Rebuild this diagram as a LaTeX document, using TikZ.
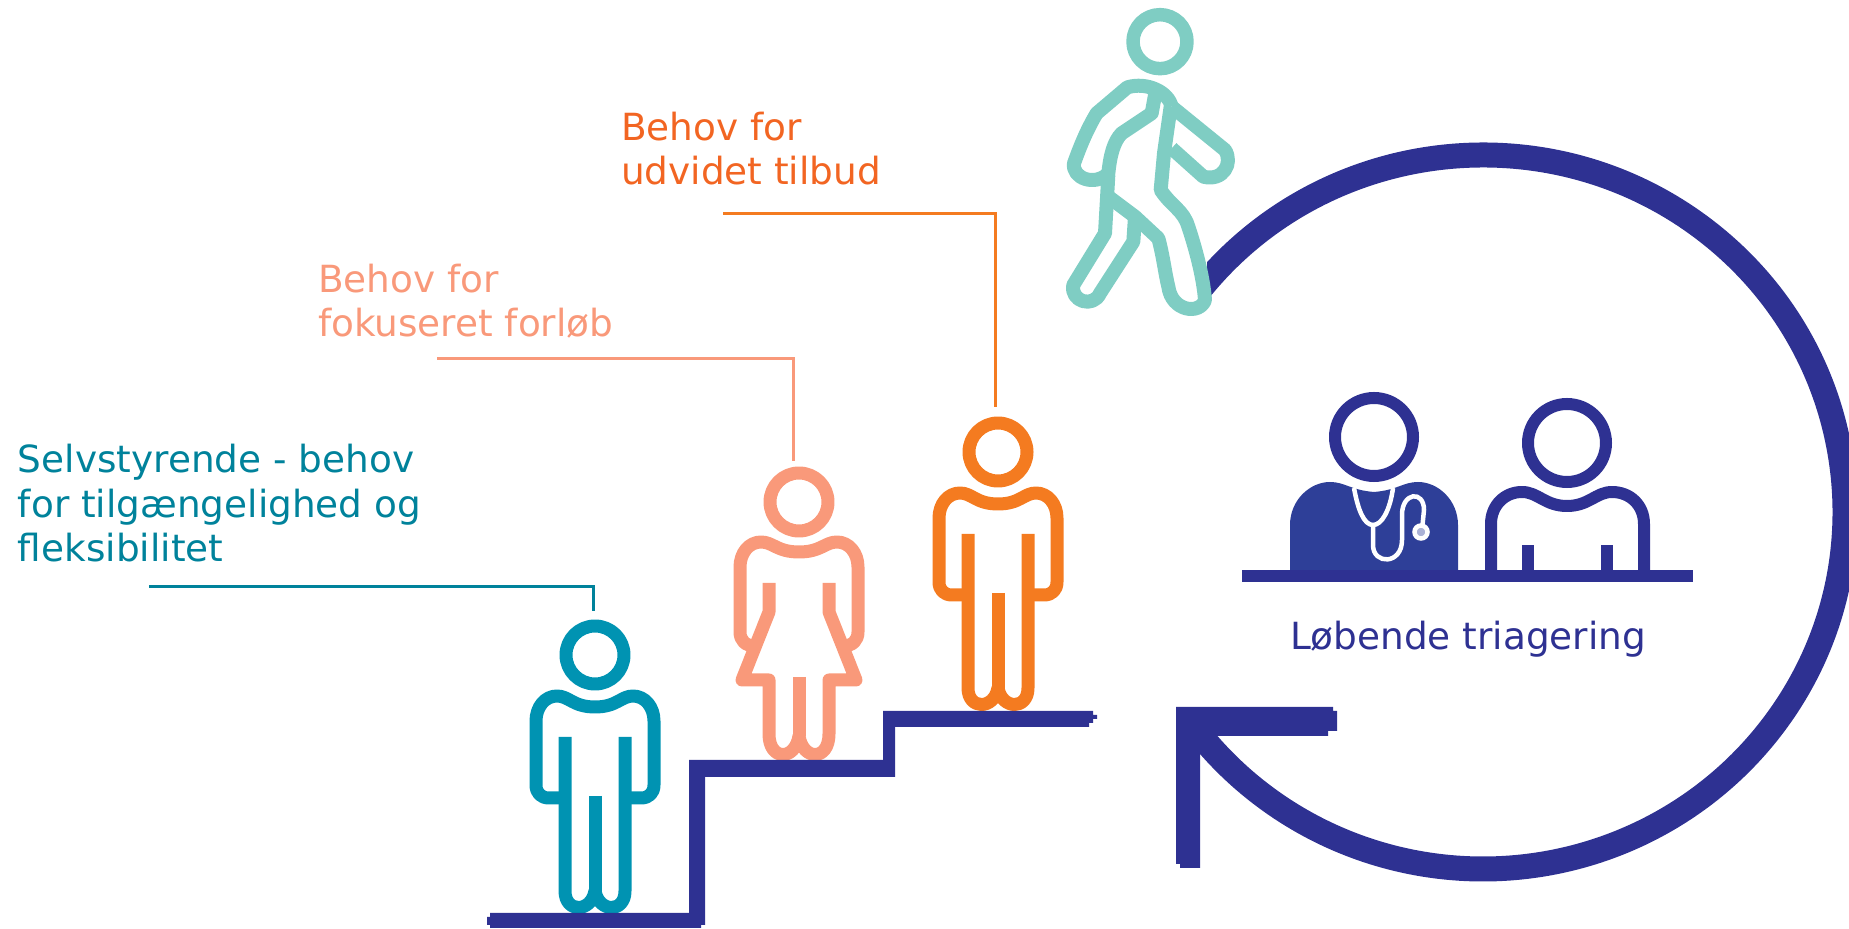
\documentclass[tikz,border=0pt]{standalone}
\usepackage{fontspec}
\setmainfont{DejaVu Sans}
\definecolor{navy}{HTML}{2E3192}
\definecolor{docblue}{HTML}{2E3F98}
\definecolor{tealfig}{HTML}{0093B2}
\definecolor{tealtxt}{HTML}{00829B}
\definecolor{salmon}{HTML}{F9997A}
\definecolor{orangefig}{HTML}{F47B20}
\definecolor{orangetxt}{HTML}{F26522}
\definecolor{mint}{HTML}{7FCDC3}
\tikzset{
  px/.style={line width=#1*0.5pt},
  fig/.style={px=13,line join=round},
  leader/.style={px=3,line join=miter},
  label/.style={inner sep=0pt,outer sep=0pt,anchor=base west,align=left,font=\fontsize{18.7}{22.4}\selectfont},
  pics/maleperson/.style={code={
    \draw[fig] (0,0) circle[radius=29];
    \draw[fig] (-30,82) -- (-30,236) .. controls (-30,258) and (-4,258) .. (0,236)
      .. controls (4,258) and (30,258) .. (30,236) -- (30,82);
    \draw[fig] (0,141) -- (0,236);
    \draw[fig] (-30,143) -- (-46,143) .. controls (-54,143) and (-59,138) .. (-59,130) -- (-59,66)
      .. controls (-59,52) and (-50,41) .. (-38,41) .. controls (-26,41) and (-22,52) .. (0,52)
      .. controls (22,52) and (26,41) .. (38,41) .. controls (50,41) and (59,52) .. (59,66)
      -- (59,130) .. controls (59,138) and (54,143) .. (46,143) -- (30,143);
  }},
  pics/femaleperson/.style={code={
    \draw[fig] (0,0) circle[radius=29];
    \draw[fig] (-30,81) -- (-30,110) -- (-57,178) -- (-30,178) -- (-30,232)
      .. controls (-30,259) and (-4,259) .. (0,234)
      .. controls (4,259) and (30,259) .. (30,232) -- (30,178) -- (57,178) -- (30,110) -- (30,81);
    \draw[fig] (0,175) -- (0,234);
    \draw[fig] (-44,144) .. controls (-54,144) and (-59,138) .. (-59,130) -- (-59,65)
      .. controls (-59,51) and (-50,40) .. (-38,40) .. controls (-26,40) and (-22,50) .. (0,50)
      .. controls (22,50) and (26,40) .. (38,40) .. controls (50,40) and (59,51) .. (59,65)
      -- (59,130) .. controls (59,138) and (54,144) .. (44,144);
  }}
}
\begin{document}
\begin{tikzpicture}[x=0.5pt,y=-0.5pt]
\useasboundingbox (0,0) rectangle (1849,929);
% people on the stairs
\pic[color=tealfig] at (595,655) {maleperson};
\pic[color=salmon] at (799,502) {femaleperson};
\pic[color=orangefig] at (998,452) {maleperson};
% stairs
\fill[navy] (490,913) -- (689,913) -- (689,760) -- (883,760) -- (883,711) -- (1093,711)
  -- (1093,715) -- (1097,715) -- (1097,719) -- (1093,719) -- (1093,723) -- (1089,723) -- (1089,727)
  -- (895,727) -- (895,777) -- (705,777) -- (705,925) -- (701,925) -- (701,928) -- (490,928)
  -- (490,925) -- (487,925) -- (487,917) -- (490,917) -- cycle;
% cycle arrow
\coordinate (c) at (1483,512);
\begin{scope}
  \clip (1207,0) rectangle (1849,929) (1100,512) rectangle (1207,929);
  \draw[navy,px=25] ([shift={(218:362 and 357)}]c) arc[start angle=218,end angle=504,x radius=362,y radius=357];
\end{scope}
\fill[navy] (1176,707) -- (1333,707) -- (1333,711) -- (1337,711) -- (1337,731) -- (1328,731) -- (1328,736) -- (1200,736)
  -- (1200,868) -- (1180,868) -- (1180,864) -- (1176,864) -- cycle;
% walker
\begin{scope}[shift={(1040,0)},x=0.16667pt,y=-0.16667pt,color=mint]
  \draw[fig,px=13.5] (360,125) circle[radius=81];
  % rear arm and shoulder
  \draw[fig,px=14] (395,320) .. controls (385,275) and (320,245) .. (262,262) -- (170,340)
    .. controls (140,390) and (120,440) .. (102,490) .. controls (95,535) and (165,560) .. (205,520)
    .. controls (210,470) and (220,425) .. (245,400) -- (335,340) -- (345,285);
  % torso back and rear leg
  \draw[fig,px=14] (205,525) -- (195,700) -- (100,855) .. controls (90,905) and (160,925) .. (180,880)
    -- (280,725) -- (285,650);
  % hip and front leg
  \draw[fig,px=14] (205,590) -- (285,650) -- (355,715) .. controls (370,770) and (375,820) .. (385,860)
    .. controls (395,935) and (480,945) .. (495,900) .. controls (490,830) and (465,740) .. (445,680)
    .. controls (430,630) and (395,620) .. (362,570) -- (372,460) -- (392,320);
  % front arm
  \draw[fig,px=14] (395,320) -- (555,450) .. controls (580,490) and (550,545) .. (490,530) -- (395,445);
\end{scope}
% doctor
\fill[docblue] (1290,570) -- (1290,525) .. controls (1290,500) and (1310,482) .. (1330,482)
  .. controls (1345,482) and (1350,490) .. (1374,492) .. controls (1398,490) and (1403,482) .. (1418,482)
  .. controls (1438,482) and (1458,500) .. (1458,525) -- (1458,570) -- cycle;
\fill[white] (1374,437) circle[radius=53];
\draw[navy,px=12] (1374,437) circle[radius=39];
\begin{scope}[white,px=4.5]
  \draw (1354,488) .. controls (1358,510) and (1364,525) .. (1373,525) .. controls (1382,525) and (1390,510) .. (1393,488);
  \draw (1373,525) -- (1373,545) .. controls (1373,565) and (1402,565) .. (1402,540) -- (1402,515)
    .. controls (1402,492) and (1424,490) .. (1424,510) -- (1422,530);
  \filldraw[fill=docblue!40!white] (1421,532) circle[radius=6.5];
\end{scope}
% patient
\draw[navy,px=12] (1567,443) circle[radius=39];
\draw[navy,px=12,line join=round] (1491,570) -- (1491,524) .. controls (1491,505) and (1505,492) .. (1522,492)
  .. controls (1538,492) and (1545,506) .. (1567,506) .. controls (1589,506) and (1596,492) .. (1612,492)
  .. controls (1630,492) and (1644,505) .. (1644,524) -- (1644,570);
\draw[navy,px=12] (1528,570) -- (1528,545);
\draw[navy,px=12] (1607,570) -- (1607,545);
\draw[navy,px=12] (1242,576) -- (1693,576);
% labels
\node[label,text=navy] (triage) at (1290,650) {Løbende triagering};
\node[label,text=orangetxt] (needwide) at (621,185) {Behov for\\udvidet tilbud};
\node[label,text=salmon] (needfocus) at (318,337) {Behov for\\fokuseret forløb};
\node[label,text=tealtxt] (needself) at (18,562) {Selvstyrende - behov\\for tilgængelighed og\\fleksibilitet};
% leaders
\coordinate (o1) at (723,214);
\coordinate (o2) at (995,407);
\draw[orangefig,leader] (o1) -| (o2);
\coordinate (s1) at (437,359);
\coordinate (s2) at (793,461);
\draw[salmon,leader] (s1) -| (s2);
\coordinate (t1) at (149,587);
\coordinate (t2) at (593,611);
\draw[tealtxt,leader] (t1) -| (t2);
\end{tikzpicture}
\end{document}
